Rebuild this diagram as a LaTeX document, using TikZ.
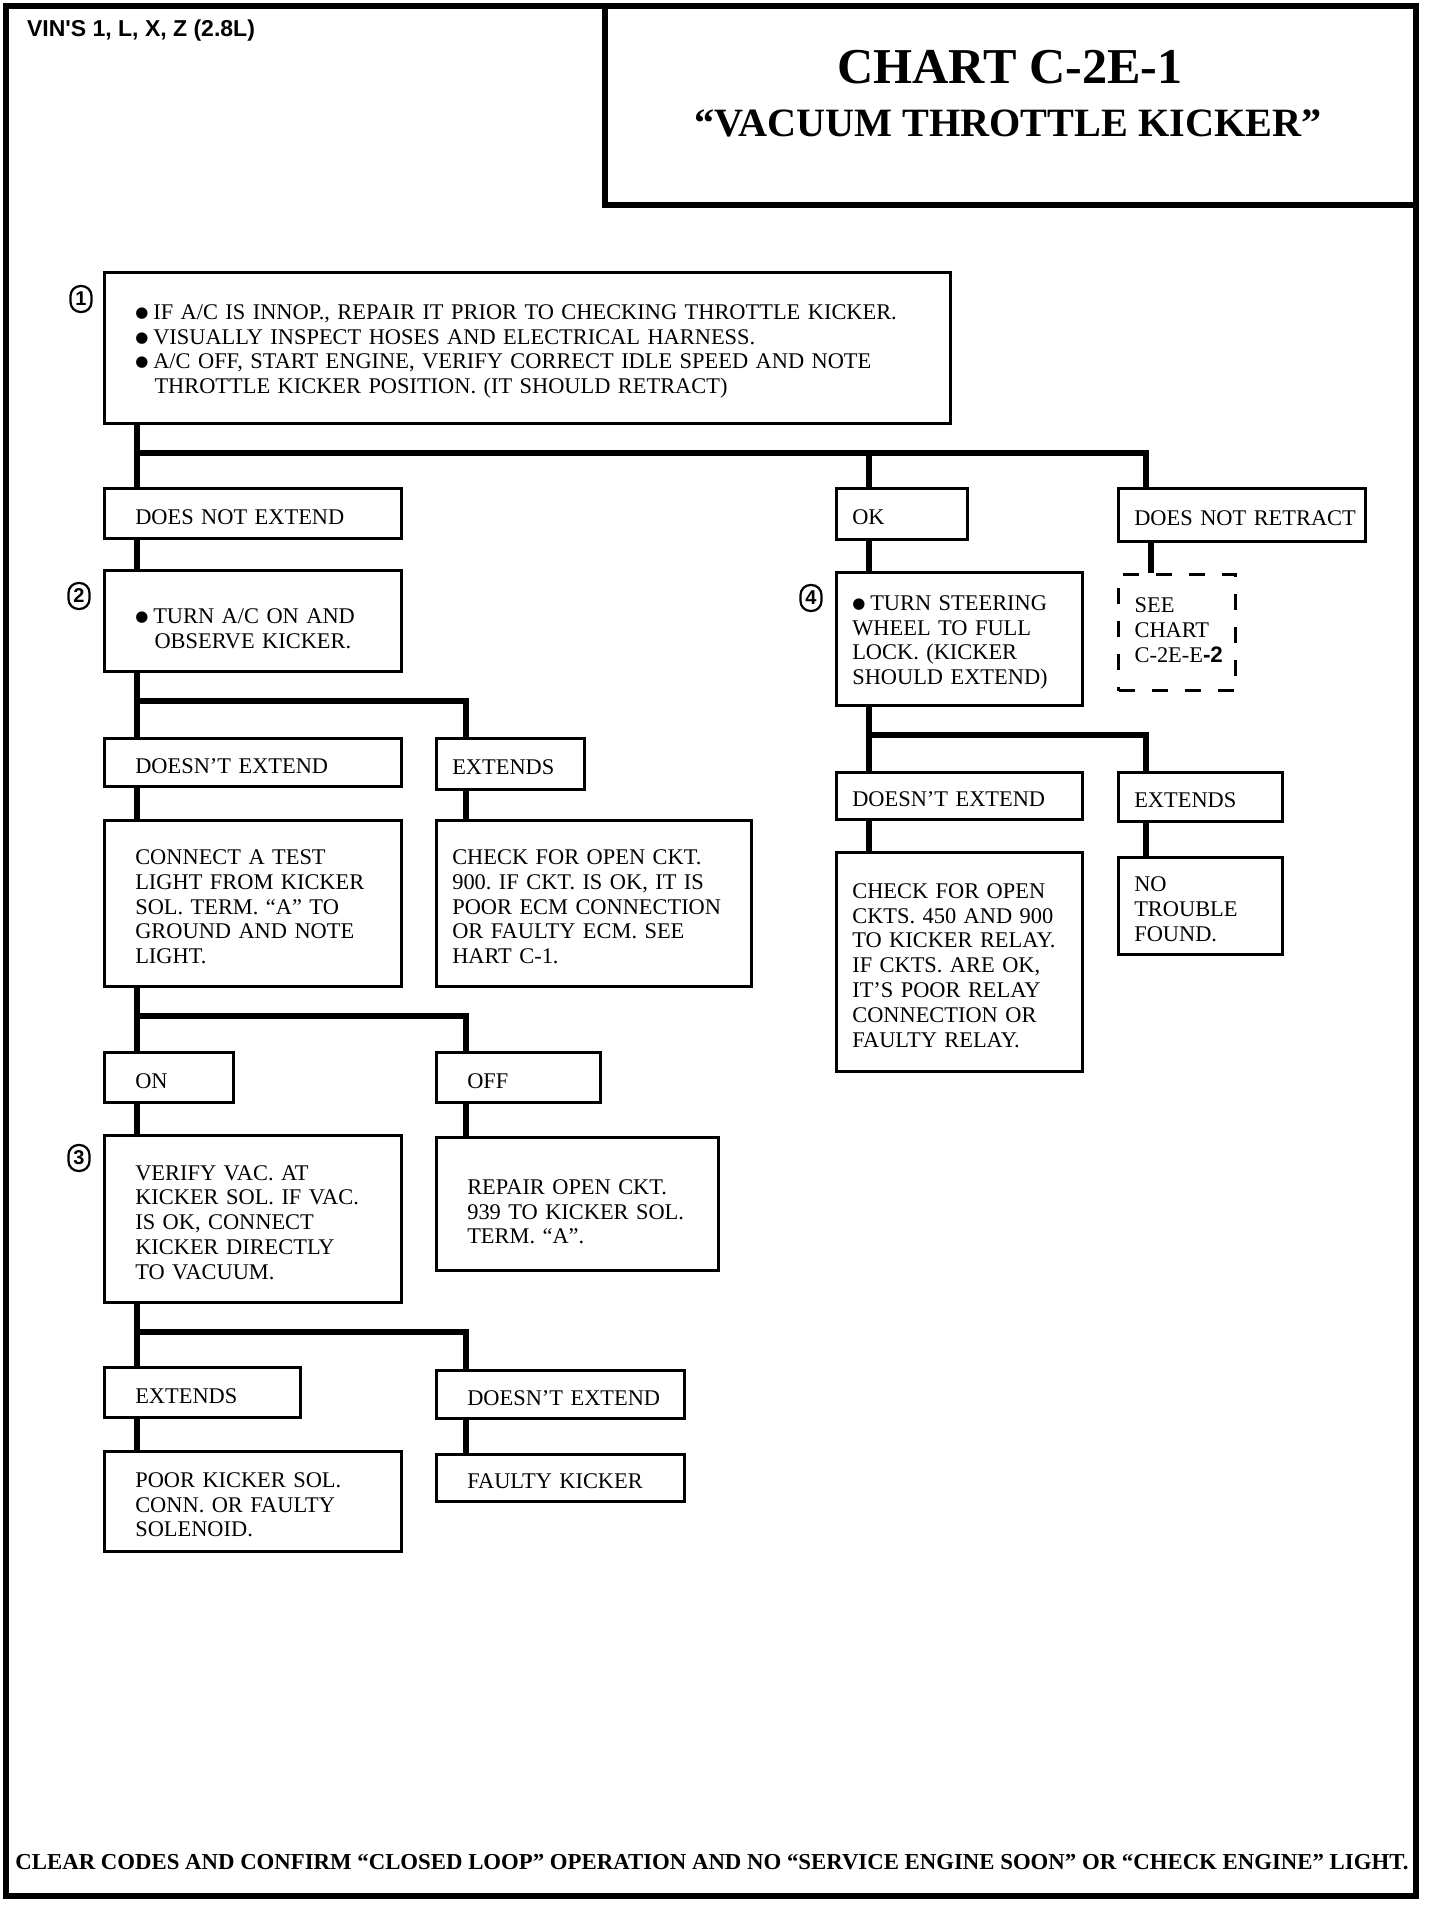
\documentclass[tikz,border=0pt]{standalone}
\usepackage{fontspec}
\setmainfont{Liberation Serif}
\setsansfont{Liberation Sans}
\newfontfamily\dejavu{DejaVu Sans}
\hyphenpenalty=10000
\exhyphenpenalty=10000
\frenchspacing
\newlength{\du}
\setlength{\du}{0.5pt}
\newcommand{\blt}{\makebox[9pt][l]{\raisebox{1pt}{\dejavu\fontsize{7.5}{8}\selectfont ●}}}
\tikzset{
  box/.style={draw, line width=1.3pt, anchor=north west, align=left,
    inner xsep=15.5pt, inner ysep=0pt, font=\fontsize{11.2}{12.4}\selectfont,
    execute at begin node={\rule{0pt}{11pt}}},
  tightbox/.style={box, inner xsep=8pt},
  seebox/.style={tightbox, line width=1.6pt, dash pattern=on 16\du off 17\du,
    execute at begin node={}, execute at end node={\rule[-6pt]{0pt}{6pt}}},
  wire/.style={line width=2.8pt},
  frame/.style={line width=2.8pt},
  stepno/.style={draw, line width=1.1pt, rounded corners=5pt, inner sep=0pt,
    minimum width=21\du, minimum height=26\du,
    font=\sffamily\bfseries\fontsize{10}{10}\selectfont},
}
\begin{document}
\begin{tikzpicture}
\pgftransformxscale{1.000000}
\pgftransformyscale{-1.000000}
\useasboundingbox (0\du,0\du) rectangle (1440\du,1906\du);
% page frame and title block
\draw[frame] (6\du,6\du) rectangle (1416\du,1896\du);
\draw[frame] (605\du,6\du) rectangle (1416\du,205\du);
\node[anchor=base west, font=\sffamily\bfseries\fontsize{11.5}{12}\selectfont] (vin) at (20\du,36\du){VIN\textquotesingle S 1, L, X, Z (2.8L)};
\node[anchor=base, font=\bfseries\fontsize{25.1}{26}\selectfont] (chart) at (1010\du,83\du){CHART C-2E-1};
\node[anchor=base, font=\bfseries\fontsize{20.1}{22}\selectfont] (kicker) at (1008\du,136\du){``VACUUM THROTTLE KICKER''};
% step 1
\node[box, text width=784\du, minimum height=151\du] (box1) at (103\du,271\du){\blt IF A/C IS INNOP., REPAIR IT PRIOR TO CHECKING THROTTLE KICKER.\\\blt VISUALLY INSPECT HOSES AND ELECTRICAL HARNESS.\\\blt A/C OFF, START ENGINE, VERIFY CORRECT IDLE SPEED AND NOTE\\\hspace*{9.6pt}THROTTLE KICKER POSITION. (IT SHOULD RETRACT)};
\node[stepno] (n1) at (81\du,299\du){1};
\node[box, text width=235\du, minimum height=50\du] (dne) at (103\du,487\du){DOES NOT EXTEND};
\node[tightbox, text width=99\du, minimum height=51\du] (ok) at (835\du,487\du){OK};
\node[tightbox, text width=215\du, minimum height=53\du] (dnr) at (1117\du,487\du){\mbox{DOES NOT RETRACT}};
% step 2
\node[box, text width=235\du, minimum height=101\du, execute at begin node={\rule{0pt}{15.5pt}}] (box2) at (103\du,569\du){\blt TURN A/C ON AND\\\hspace*{9.6pt}OBSERVE KICKER.};
\node[stepno] (n2) at (79\du,596\du){2};
\node[box, text width=235\du, minimum height=48\du] (dx1) at (103\du,737\du){DOESN'T EXTEND};
\node[tightbox, text width=116\du, minimum height=51\du] (ex1) at (435\du,737\du){EXTENDS};
\node[box, text width=235\du, minimum height=166\du] (conn) at (103\du,819\du){CONNECT A TEST\\LIGHT FROM KICKER\\SOL. TERM. ``A'' TO\\GROUND AND NOTE\\LIGHT.};
\node[tightbox, text width=283\du, minimum height=166\du] (chk1) at (435\du,819\du){CHECK FOR OPEN CKT.\\900. IF CKT. IS OK, IT IS\\POOR ECM CONNECTION\\OR FAULTY ECM. SEE\\HART C-1.};
\node[box, text width=67\du, minimum height=50\du] (on) at (103\du,1051\du){ON};
\node[box, text width=102\du, minimum height=50\du] (off) at (435\du,1051\du){OFF};
% step 3
\node[box, text width=235\du, minimum height=167\du] (box3) at (103\du,1134\du){VERIFY VAC. AT\\KICKER SOL. IF VAC.\\IS OK, CONNECT\\KICKER DIRECTLY\\TO VACUUM.};
\node[stepno] (n3) at (79\du,1158\du){3};
\node[box, text width=220\du, minimum height=133\du, execute at begin node={\rule{0pt}{15.5pt}}] (rep) at (435\du,1136\du){REPAIR OPEN CKT.\\939 TO KICKER SOL.\\TERM. ``A''.};
\node[box, text width=134\du, minimum height=50\du] (ex2) at (103\du,1366\du){EXTENDS};
\node[box, text width=186\du, minimum height=48\du] (dx2) at (435\du,1369\du){\mbox{DOESN'T EXTEND}};
\node[box, text width=235\du, minimum height=100\du] (poor) at (103\du,1450\du){POOR KICKER SOL.\\CONN. OR FAULTY\\SOLENOID.};
\node[box, text width=186\du, minimum height=47\du] (faulty) at (435\du,1453\du){\mbox{FAULTY KICKER}};
% step 4
\node[tightbox, text width=214\du, minimum height=133\du] (box4) at (835\du,571\du){\blt TURN STEERING\\WHEEL TO FULL\\LOCK. (KICKER\\SHOULD EXTEND)};
\node[stepno] (n4) at (811\du,598\du){4};
\node[seebox, text width=85\du, minimum height=116\du] (see) at (1117\du,573\du){SEE\\CHART\\\mbox{C-2E-E{\sffamily\bfseries -2}}};
\node[tightbox, text width=214\du, minimum height=47\du] (dx3) at (835\du,771\du){DOESN'T EXTEND};
\node[tightbox, text width=132\du, minimum height=49\du] (ex3) at (1117\du,771\du){EXTENDS};
\node[tightbox, text width=214\du, minimum height=219\du] (chk2) at (835\du,851\du){CHECK FOR OPEN\\CKTS. 450 AND 900\\TO KICKER RELAY.\\IF CKTS. ARE OK,\\IT'S POOR RELAY\\CONNECTION OR\\FAULTY RELAY.};
\node[tightbox, text width=132\du, minimum height=97\du] (notf) at (1117\du,856\du){NO\\TROUBLE\\FOUND.};
% junctions
\coordinate (j1) at (137\du,453\du);
\coordinate (k1) at (869\du,453\du);
\coordinate (k2) at (1146\du,453\du);
\coordinate (j2) at (137\du,701\du);
\coordinate (k3) at (466\du,701\du);
\coordinate (j3) at (137\du,1016\du);
\coordinate (k4) at (466\du,1016\du);
\coordinate (j4) at (137\du,1332\du);
\coordinate (k5) at (466\du,1332\du);
\coordinate (j5) at (869\du,735\du);
\coordinate (k6) at (1146\du,735\du);
\coordinate (k7) at (1151\du,560\du);
% connectors
\draw[wire] (box1.south -| j1) -- (dne.north -| j1);
\draw[wire] (j1) -| (dnr.north -| k2);
\draw[wire] (k1) -- (ok.north -| k1);
\draw[wire] (dne.south -| j1) -- (box2.north -| j1);
\draw[wire] (dnr.south -| k7) -- (see.north -| k7);
\draw[wire] (box2.south -| j2) -- (dx1.north -| j2);
\draw[wire] (j2) -| (ex1.north -| k3);
\draw[wire] (dx1.south -| j2) -- (conn.north -| j2);
\draw[wire] (ex1.south -| k3) -- (chk1.north -| k3);
\draw[wire] (conn.south -| j3) -- (on.north -| j3);
\draw[wire] (j3) -| (off.north -| k4);
\draw[wire] (on.south -| j3) -- (box3.north -| j3);
\draw[wire] (off.south -| k4) -- (rep.north -| k4);
\draw[wire] (box3.south -| j4) -- (ex2.north -| j4);
\draw[wire] (j4) -| (dx2.north -| k5);
\draw[wire] (ex2.south -| j4) -- (poor.north -| j4);
\draw[wire] (dx2.south -| k5) -- (faulty.north -| k5);
\draw[wire] (ok.south -| k1) -- (box4.north -| k1);
\draw[wire] (box4.south -| j5) -- (dx3.north -| j5);
\draw[wire] (j5) -| (ex3.north -| k6);
\draw[wire] (dx3.south -| j5) -- (chk2.north -| j5);
\draw[wire] (ex3.south -| k6) -- (notf.north -| k6);
% setfont left to latex
\node[anchor=base, font=\bfseries\fontsize{11.4}{12}\selectfont] (foot) at (712\du,1869\du){CLEAR CODES AND CONFIRM ``CLOSED LOOP'' OPERATION AND NO ``SERVICE ENGINE SOON'' OR ``CHECK ENGINE'' LIGHT.};
\end{tikzpicture}
\end{document}
